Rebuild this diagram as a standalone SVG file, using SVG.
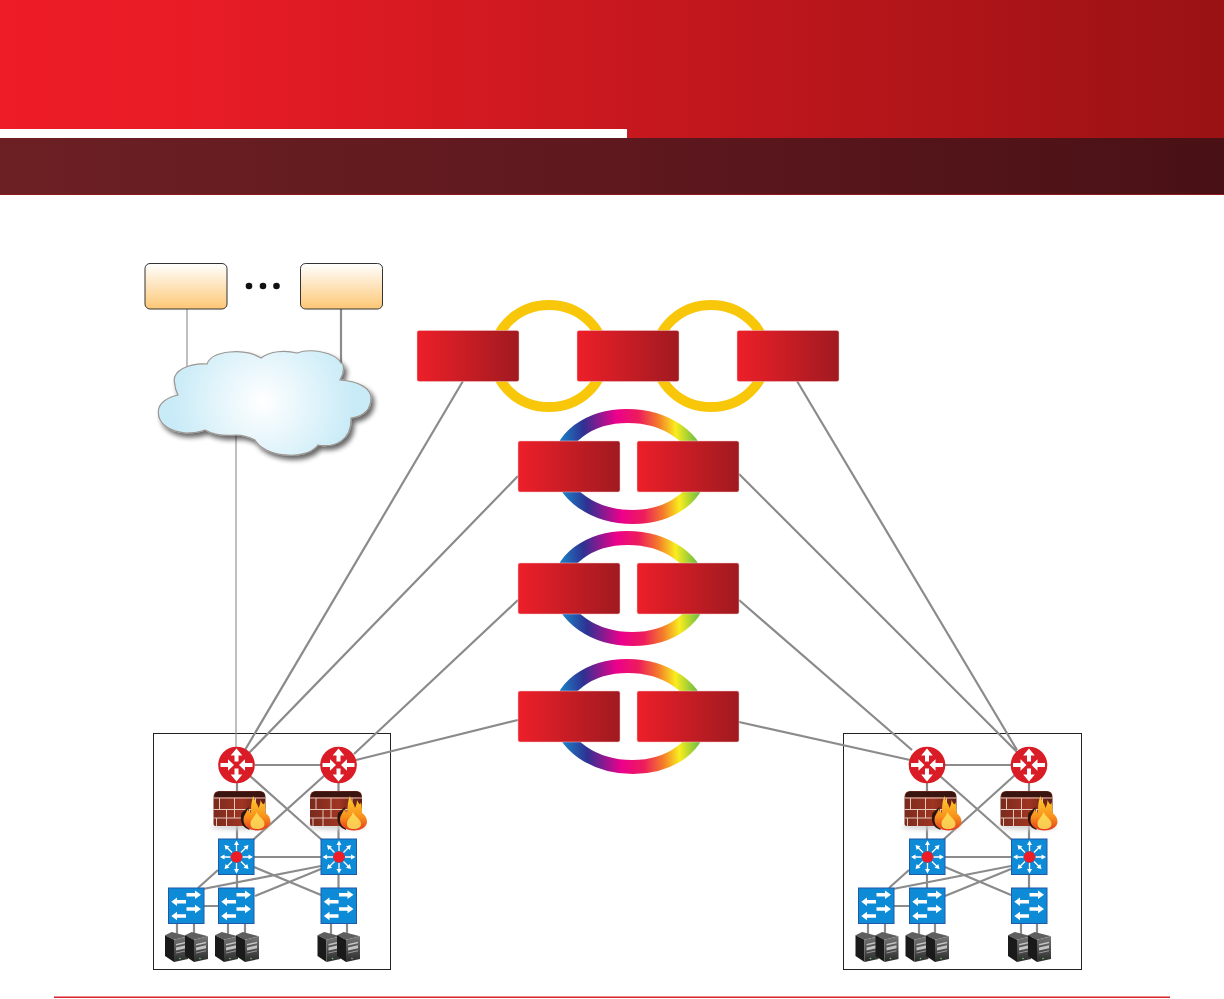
<svg xmlns="http://www.w3.org/2000/svg" width="1224" height="999" viewBox="0 0 1224 999">
<style>
.c{fill:none;stroke:#8b8b8b;stroke-width:2.200}
.t{fill:none;stroke:#8b8b8b;stroke-width:1.100}
.box{fill:#fff;stroke:#222;stroke-width:1}
.dev{fill:url(#devG);stroke:#f3c9c9;stroke-width:.5}
.peach{fill:url(#peachG);stroke:#333;stroke-width:1}
.gold{fill:none;stroke:#f8c70a;stroke-width:10}
.rain{fill:none;stroke:url(#rainG);stroke-width:14}
.w{fill:#fff}
.sw{fill:#0e8bd6;stroke:#1e5aa8;stroke-width:1}
</style>
<defs>
<linearGradient id="hdr"><stop offset="0" stop-color="#ed1c27"/><stop offset=".15" stop-color="#e91c26"/><stop offset="1" stop-color="#9a1214"/></linearGradient>
<linearGradient id="hdr2"><stop offset="0" stop-color="#6c2024"/><stop offset=".5" stop-color="#5e181e"/><stop offset="1" stop-color="#491115"/></linearGradient>
<linearGradient id="devG"><stop offset="0" stop-color="#ed1f29"/><stop offset="1" stop-color="#a01a20"/></linearGradient>
<linearGradient id="peachG" x1="0" y1="0" x2="0" y2="1"><stop offset="0" stop-color="#fff"/><stop offset="1" stop-color="#fdc775"/></linearGradient>
<linearGradient id="rainG"><stop offset="0" stop-color="#1b85c9"/><stop offset=".18" stop-color="#2e3192"/><stop offset=".42" stop-color="#ec008c"/><stop offset=".58" stop-color="#ed1c5c"/><stop offset=".72" stop-color="#f47c2a"/><stop offset=".84" stop-color="#f9ed1e"/><stop offset="1" stop-color="#5fb946"/></linearGradient>
<radialGradient id="cloudG" gradientUnits="userSpaceOnUse" cx="263" cy="402" r="90"><stop offset="0" stop-color="#fff"/><stop offset="1" stop-color="#c9ebf7"/></radialGradient>
<linearGradient id="brick"><stop offset="0" stop-color="#7a2a1e"/><stop offset=".55" stop-color="#a03522"/><stop offset="1" stop-color="#5e1c15"/></linearGradient>
<linearGradient id="flame" x1="0" y1="0" x2="0" y2="1"><stop offset="0" stop-color="#fdd02f"/><stop offset=".6" stop-color="#f9911c"/><stop offset="1" stop-color="#e23a1c"/></linearGradient>
<linearGradient id="srv" x1="0" y1="0" x2="0" y2="1"><stop offset="0" stop-color="#777"/><stop offset="1" stop-color="#2a2a2a"/></linearGradient>
<filter id="sh" x="-20%" y="-20%" width="145%" height="150%"><feGaussianBlur in="SourceAlpha" stdDeviation="2.500"/><feOffset dx="3" dy="4"/><feComponentTransfer><feFuncA type="linear" slope=".6"/></feComponentTransfer><feMerge><feMergeNode/><feMergeNode in="SourceGraphic"/></feMerge></filter>
<filter id="soft" x="-30%" y="-100%" width="160%" height="300%"><feGaussianBlur stdDeviation="2"/></filter>
<g id="router">
<circle cx="0" cy="0" r="18.300" fill="#d91c25"/>
<path class="w" d="M-2-3.500V-9.500H-5.800L0-16.500 5.800-9.500H2V-3.500ZM-2 3.500V9.500H-5.800L0 16.500 5.800 9.500H2V3.500ZM-16-2H-8.500V-5.800L-2.500 0-8.500 5.800V2H-16ZM16-2H8.500V-5.800L2.500 0 8.500 5.800V2H16Z"/>
</g>
<g id="l3">
<rect class="sw" x="0" y="0" width="35.500" height="35.500"/>
<path stroke="#fff" stroke-width="1.300" fill="none" d="M18 5V12M18 24V31M5 18H12M24 18H31M8.500 8.500 13.500 13.500M27.500 8.500 22.500 13.500M8.500 27.500 13.500 22.500M27.500 27.500 22.500 22.500"/>
<path class="w" d="M18 1.500 20.500 6H15.500ZM18 34.500 15.500 30H20.500ZM1.500 18 6 15.500V20.500ZM34.500 18 30 20.500V15.500ZM6 6 11 7.200 7.200 11ZM30 6 28.800 11 25 7.200ZM6 30 7.200 25 11 28.800ZM30 30 25 28.800 28.800 25Z"/>
<circle cx="18" cy="18" r="5.800" fill="#ed1c27"/>
</g>
<g id="acc">
<rect class="sw" x="0" y="0" width="35.500" height="35.500"/>
<path class="w" d="M18 5H26.500V2.500L32.500 6.700 26.500 10.900V8.400H18ZM17.500 12H8.500V9.500L2.800 13.700 8.500 17.900V15.400H17.500ZM18 19.300H26.500V16.800L32.500 21 26.500 25.200V22.700H18ZM17.500 26.300H8.500V23.800L2.800 28 8.500 32.200V29.700H17.500Z"/>
</g>
<g id="fw">
<ellipse cx="27" cy="36" rx="30" ry="2.500" fill="#ccc" filter="url(#soft)"/>
<path d="M0 33V6Q0 0 6 0H46Q52 0 52 6V33Q52 35 50 35H2Q0 35 0 33Z" fill="url(#brick)"/>
<path d="M1 6Q1 .5 6 .5H46Q51 .5 51 6Z" fill="#3a140f"/>
<path d="M0 7H52M0 18.500H52M0 27H52M6 7V18.500M21 7V18.500M21 18.500V27M13 18.500V27M13 27V35M3 27V35M42 7V18.500M36 18.500V27M32 27V35" stroke="#e2c7ba" stroke-width="1" fill="none"/>
<path d="M28 22Q25 35 36 39L35 16Z" fill="#2b1410"/>
<path d="M30 29C30 24 33 22 34 18 35 20 36 21 37 22 38 17 37 12 40 5 41 11 44 12 45 17 46 15 47 12 47 9 49 13 50 15 51 11 52 16 52 20 52 22 55 24 57 27 57 31 57 36 50 39.500 44 39.500 36 39.500 30 35 30 29Z" fill="url(#flame)"/>
<path d="M37 33C37 28 41 27 43 21 45 26 51 28 51 33 51 37 47 38 44 38 40 38 37 37 37 33Z" fill="#fde15c" opacity=".85"/>
</g>
<g id="srvI">
<path d="M0 3.300 6.700 0 23 4.300 9 7.700Z" fill="#5f5f5f"/>
<path d="M0 3.300 9 7.700V30L0 24Z" fill="#1a1a1a"/>
<path d="M9 7.700 23 4.300V27L9 30Z" fill="url(#srv)"/>
<path d="M11 12 21 9.800V11.300L11 13.500ZM11 15.500 21 13.300V16.300L11 18.500Z" fill="#c4c4c4"/>
<path d="M11 20.500 21 18.300V19.300L11 21.500Z" fill="#999"/>
<circle cx="15" cy="26.500" r=".8" fill="#7c7"/>
</g>
</defs>

<g id="header">
<rect x="0" y="0" width="1224" height="138" fill="url(#hdr)"/>
<rect x="0" y="129" width="627" height="9" fill="#fff"/>
<rect x="0" y="138" width="1224" height="57" fill="url(#hdr2)"/>
<rect x="0" y="194" width="1224" height="1" fill="#8f1a1e"/>
</g>
<rect id="footer-line" x="54" y="996.500" width="1116" height="1.500" fill="#d8232a"/>

<g id="site-left-frame"><rect class="box" x="153.500" y="733.500" width="237" height="236"/></g>
<g id="site-right-frame"><rect class="box" x="843.500" y="733.500" width="238" height="236"/></g>

<g id="rings">
<ellipse class="gold" cx="549" cy="356" rx="55" ry="51"/>
<ellipse class="gold" cx="711" cy="356" rx="55" ry="51"/>
<ellipse class="rain" rx="70" ry="50.500" transform="translate(630 466.500) skewX(2.900)"/>
<ellipse class="rain" rx="70" ry="50.500" transform="translate(630 588.500) skewX(2.900)"/>
<ellipse class="rain" rx="70" ry="50.500" transform="translate(630 716.500) skewX(2.900)"/>
</g>

<g id="connectors">
<path class="t" d="M187 309V372M236 430V748"/>
<path class="c" d="M341 309V368"/>
<path class="c" d="M463 381 245 750M518 476 248 754M518 600 354 754M518 720 356 760"/>
<path class="c" d="M739 474 1017 752M739 600 912 750M739 722 910 760M797 381 1017 750"/>
<g id="conn-left">
<path class="c" d="M255 765H321M250 776 322 840M325 775 253 840M237 783V839M338.500 783V839M254 857H321"/>
<path class="c" d="M218 870 198 888M237 875V888M254 867 321 895M321 866 203 889M321 869 255 896M338.500 875V888M204 906H218"/>
<path class="c" d="M177 924V934M194 924V934M228 924V934M245 924V934M331 924V934M347 924V934"/>
</g>
<g id="conn-right">
<path class="c" d="M945 765H1011M940 776 1012 840M1015 775 943 840M927 783V839M1029 783V839M945 857H1011"/>
<path class="c" d="M909 870 889 888M927 875V888M945 867 1011 895M1011 866 893 889M1011 869 945 896M1029 875V888M894 906H909"/>
<path class="c" d="M868 924V934M885 924V934M919 924V934M935 924V934M1021 924V934M1037 924V934"/>
</g>
</g>

<g id="peer-a"><rect class="peach" x="145" y="263.500" width="82" height="45.500" rx="5"/></g>
<g id="peer-b"><rect class="peach" x="300.500" y="263.500" width="82" height="45.500" rx="5"/></g>
<g id="ellipsis" fill="#111"><circle cx="249" cy="286" r="3.300"/><circle cx="263" cy="286" r="3.300"/><circle cx="276.500" cy="286" r="3.300"/></g>

<g id="cloud"><path filter="url(#sh)" fill="url(#cloudG)" stroke="#9c9792" stroke-width="1.200" d="M158.300 411.700C158 424 170 432 186 433 193 433 200 432 205 430 214 435 226 436 236 435 243 435 249 437 255 440 263 456 305 462 318 445 335 448 352 440 351 418 365 416 371 408 371 398 371 388 358 381 340 380 345 372 344 363 341 363 335 352 310 348 297 353 285 350 270 351 261 358 245 348 212 350 207 364 190 363 170 370 175 385 175 390 177 392 178 395 168 397 158.500 403 158.300 411.700Z"/></g>

<g id="dev-top-1"><rect class="dev" x="417" y="330.500" width="102" height="51" rx="2"/></g>
<g id="dev-top-2"><rect class="dev" x="577" y="330.500" width="102" height="51" rx="2"/></g>
<g id="dev-top-3"><rect class="dev" x="737" y="330.500" width="102" height="51" rx="2"/></g>
<g id="dev-r1-l"><rect class="dev" x="518" y="441" width="102" height="51" rx="2"/></g>
<g id="dev-r1-r"><rect class="dev" x="637" y="441" width="102" height="51" rx="2"/></g>
<g id="dev-r2-l"><rect class="dev" x="518" y="563" width="102" height="51" rx="2"/></g>
<g id="dev-r2-r"><rect class="dev" x="637" y="563" width="102" height="51" rx="2"/></g>
<g id="dev-r3-l"><rect class="dev" x="518" y="691" width="102" height="51" rx="2"/></g>
<g id="dev-r3-r"><rect class="dev" x="637" y="691" width="102" height="51" rx="2"/></g>

<g id="left-router-1"><use href="#router" x="236.500" y="765"/></g>
<g id="left-router-2"><use href="#router" x="338.500" y="765"/></g>
<g id="left-fw-1"><use href="#fw" x="213.500" y="791"/></g>
<g id="left-fw-2"><use href="#fw" x="310" y="791"/></g>
<g id="left-l3-1"><use href="#l3" x="218.500" y="839"/></g>
<g id="left-l3-2"><use href="#l3" x="321" y="839"/></g>
<g id="left-acc-1"><use href="#acc" x="168.500" y="888"/></g>
<g id="left-acc-2"><use href="#acc" x="218.500" y="888"/></g>
<g id="left-acc-3"><use href="#acc" x="321" y="888"/></g>
<g id="left-srv-1"><use href="#srvI" x="165" y="932"/></g>
<g id="left-srv-2"><use href="#srvI" x="185" y="932"/></g>
<g id="left-srv-3"><use href="#srvI" x="215" y="932"/></g>
<g id="left-srv-4"><use href="#srvI" x="236" y="932"/></g>
<g id="left-srv-5"><use href="#srvI" x="317.500" y="932"/></g>
<g id="left-srv-6"><use href="#srvI" x="337" y="932"/></g>

<g id="right-router-1"><use href="#router" x="927" y="765"/></g>
<g id="right-router-2"><use href="#router" x="1029" y="765"/></g>
<g id="right-fw-1"><use href="#fw" x="904.500" y="791"/></g>
<g id="right-fw-2"><use href="#fw" x="1000.500" y="791"/></g>
<g id="right-l3-1"><use href="#l3" x="909.500" y="839"/></g>
<g id="right-l3-2"><use href="#l3" x="1011.500" y="839"/></g>
<g id="right-acc-1"><use href="#acc" x="858.500" y="888"/></g>
<g id="right-acc-2"><use href="#acc" x="909.500" y="888"/></g>
<g id="right-acc-3"><use href="#acc" x="1011.500" y="888"/></g>
<g id="right-srv-1"><use href="#srvI" x="855.500" y="932"/></g>
<g id="right-srv-2"><use href="#srvI" x="875.500" y="932"/></g>
<g id="right-srv-3"><use href="#srvI" x="905.500" y="932"/></g>
<g id="right-srv-4"><use href="#srvI" x="926" y="932"/></g>
<g id="right-srv-5"><use href="#srvI" x="1008" y="932"/></g>
<g id="right-srv-6"><use href="#srvI" x="1028" y="932"/></g>
</svg>
